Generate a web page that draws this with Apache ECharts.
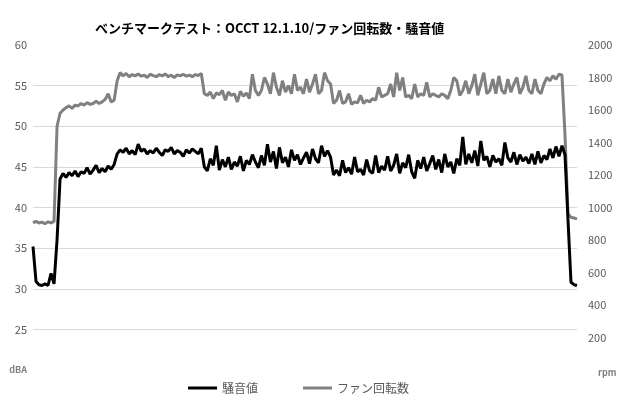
<!DOCTYPE html>
<html>
<head>
<meta charset="utf-8">
<script src="https://cdn.jsdelivr.net/npm/echarts@6/dist/echarts.min.js"></script>
<style>
  html, body { margin: 0; padding: 0; background: #fff; }
  #chart { width: 620px; height: 400px; }
</style>
</head>
<body>
<div id="chart"></div>
<script>
// noise level (dBA), sampled across the run
const noiseDba = [
  35.2, 30.9, 30.5, 30.4, 30.6, 30.4, 31.9, 30.6,
  36.0, 43.5, 44.2,
  43.7, 44.3, 43.9, 44.5, 43.8, 44.4, 44.2, 44.9, 44.1, 44.6,
  45.2, 44.3, 44.8, 44.4, 45.1, 44.7, 45.3,
  46.6, 47.1,
  46.8, 47.3, 46.6, 47.0, 46.5, 47.8, 46.9, 47.2, 46.6, 47.0,
  46.7, 47.3, 46.8, 46.4, 47.1, 46.9, 47.4, 46.6, 47.0, 46.8,
  46.3, 47.1, 46.7, 47.2, 46.9, 46.6, 47.3,
  45.0,
  44.5, 46.0, 45.2, 47.6, 44.6, 45.9, 45.0, 46.2, 44.7, 45.6,
  45.1, 46.3, 44.5, 45.8, 45.3, 46.5, 45.6, 44.9,
  46.4, 45.2, 47.8, 45.6, 46.9, 44.8, 47.4, 45.5, 46.2, 45.0,
  47.1, 45.8, 46.5, 45.3, 46.1, 46.8, 45.4, 47.2, 46.0, 45.5,
  47.6, 46.3, 47.0, 46.2,
  44.0, 44.6, 43.9, 45.8, 44.3, 44.9, 44.1, 46.2, 44.4, 44.7,
  44.0, 45.9, 44.5, 44.2, 46.4, 44.3, 45.1, 44.6,
  46.3, 44.5, 45.2, 46.6, 44.2, 45.5, 44.9, 46.5, 44.4, 43.6,
  45.8, 44.8, 46.2, 44.5, 45.4, 46.4, 44.7, 45.9, 44.3, 46.6,
  45.0, 45.6, 44.2, 46.0, 45.2,
  48.7,
  45.3, 46.6, 45.5, 47.0, 45.1, 48.2, 45.8, 46.3, 45.0, 46.4,
  45.6, 46.0, 45.2, 48.0, 46.1, 45.6, 46.8, 45.3, 46.5, 45.7,
  46.2, 45.4,
  46.6, 45.3, 46.9, 45.5, 46.4, 45.9, 47.2, 46.1, 47.5, 46.3, 47.6,
  46.5, 38.5, 30.8, 30.5, 30.4
];

// fan speed (rpm), same samples
const fanRpm = [
  905, 915, 905, 910, 900, 912, 905, 915,
  1500, 1580, 1600,
  1615, 1625, 1610, 1630, 1625, 1640, 1630, 1645, 1635, 1640,
  1655, 1640, 1650, 1665, 1700, 1650, 1660,
  1780, 1830,
  1810, 1825, 1805, 1818, 1810, 1822, 1808, 1815, 1800, 1820,
  1812, 1805, 1818, 1810, 1822, 1806, 1814, 1800, 1816, 1810,
  1820, 1808, 1815, 1805, 1818, 1812, 1825,
  1700,
  1690, 1710, 1670, 1705, 1695, 1720, 1660, 1710, 1690, 1700,
  1650, 1715, 1685, 1705, 1670, 1820, 1720, 1690,
  1720, 1800, 1760, 1700, 1830, 1740, 1690, 1780, 1710, 1750,
  1700, 1820, 1720, 1740, 1700, 1790, 1710, 1760, 1820, 1700,
  1720, 1830, 1780, 1760,
  1640, 1660, 1720, 1640, 1650, 1700, 1635, 1650, 1645, 1690,
  1640, 1660, 1650, 1670, 1660, 1740, 1680, 1690,
  1700, 1760, 1680, 1830, 1720, 1800, 1680, 1690, 1670, 1760,
  1680, 1700, 1690, 1770, 1680, 1700, 1690, 1680, 1700, 1690,
  1670, 1720, 1800, 1780, 1690,
  1720,
  1780, 1700, 1750, 1820, 1690, 1760, 1830, 1700, 1720, 1790,
  1700, 1810, 1720, 1700, 1790, 1710, 1760, 1800, 1700, 1740,
  1810, 1720,
  1700, 1790, 1720, 1700, 1760, 1800, 1780, 1810, 1790, 1820, 1815,
  1450, 960, 940, 935, 930
];

const samples = noiseDba.map((_, i) => i + 1);

const seriesNames = ['騒音値', 'ファン回転数'];
const titleText = 'ベンチマークテスト：OCCT 12.1.10/ファン回転数・騒音値';

const chart = echarts.init(document.getElementById('chart'));

const fontFamily = '"Noto Sans CJK JP", "Open Sans", sans-serif';

chart.setOption({
  animation: false,
  textStyle: { fontFamily: fontFamily },
  title: {
    text: titleText,
    left: 90,
    top: 17,
    textStyle: { fontSize: 13, fontWeight: 'bold', color: '#000' }
  },
  legend: {
    data: seriesNames,
    left: 183,
    bottom: 1,
    icon: 'rect',
    itemWidth: 29,
    itemHeight: 3,
    itemGap: 45,
    textStyle: { color: '#595959', fontSize: 12 }
  },
  grid: { left: 33, right: 43, top: 45, bottom: 30 },
  xAxis: {
    type: 'category',
    boundaryGap: false,
    data: samples,
    axisLine: { show: false },
    axisTick: { show: false },
    axisLabel: { show: false },
    splitLine: { show: false }
  },
  yAxis: [
    {
      type: 'value',
      min: 20,
      max: 60,
      interval: 5,
      axisLine: { show: false },
      axisTick: { show: false },
      splitLine: {
        show: true,
        showMinLine: false,
        showMaxLine: false,
        lineStyle: { color: '#d9d9d9', width: 1 }
      },
      axisLabel: {
        color: '#595959',
        fontSize: 11,
        margin: 6,
        formatter: (v) => (v === 20 ? '{u|dBA}' : String(v)),
        rich: { u: { fontSize: 9, fontWeight: 'bold', color: '#7f7f7f' } }
      }
    },
    {
      type: 'value',
      min: 0,
      max: 2000,
      interval: 200,
      position: 'right',
      axisLine: { show: false },
      axisTick: { show: false },
      splitLine: { show: false },
      axisLabel: {
        color: '#595959',
        fontSize: 11,
        margin: 11,
        formatter: (v) => (v === 0 ? '{u|rpm}' : String(v)),
        rich: { u: { fontSize: 9, fontWeight: 'bold', color: '#7f7f7f', padding: [6, 0, 0, 10] } }
      }
    }
  ],
  series: [
    {
      name: seriesNames[0],
      type: 'line',
      yAxisIndex: 0,
      data: noiseDba,
      symbol: 'none',
      lineStyle: { color: '#000000', width: 3 },
      itemStyle: { color: '#000000' },
      z: 3
    },
    {
      name: seriesNames[1],
      type: 'line',
      yAxisIndex: 1,
      data: fanRpm,
      symbol: 'none',
      lineStyle: { color: '#808080', width: 3 },
      itemStyle: { color: '#808080' },
      z: 2
    }
  ]
});
</script>
</body>
</html>
